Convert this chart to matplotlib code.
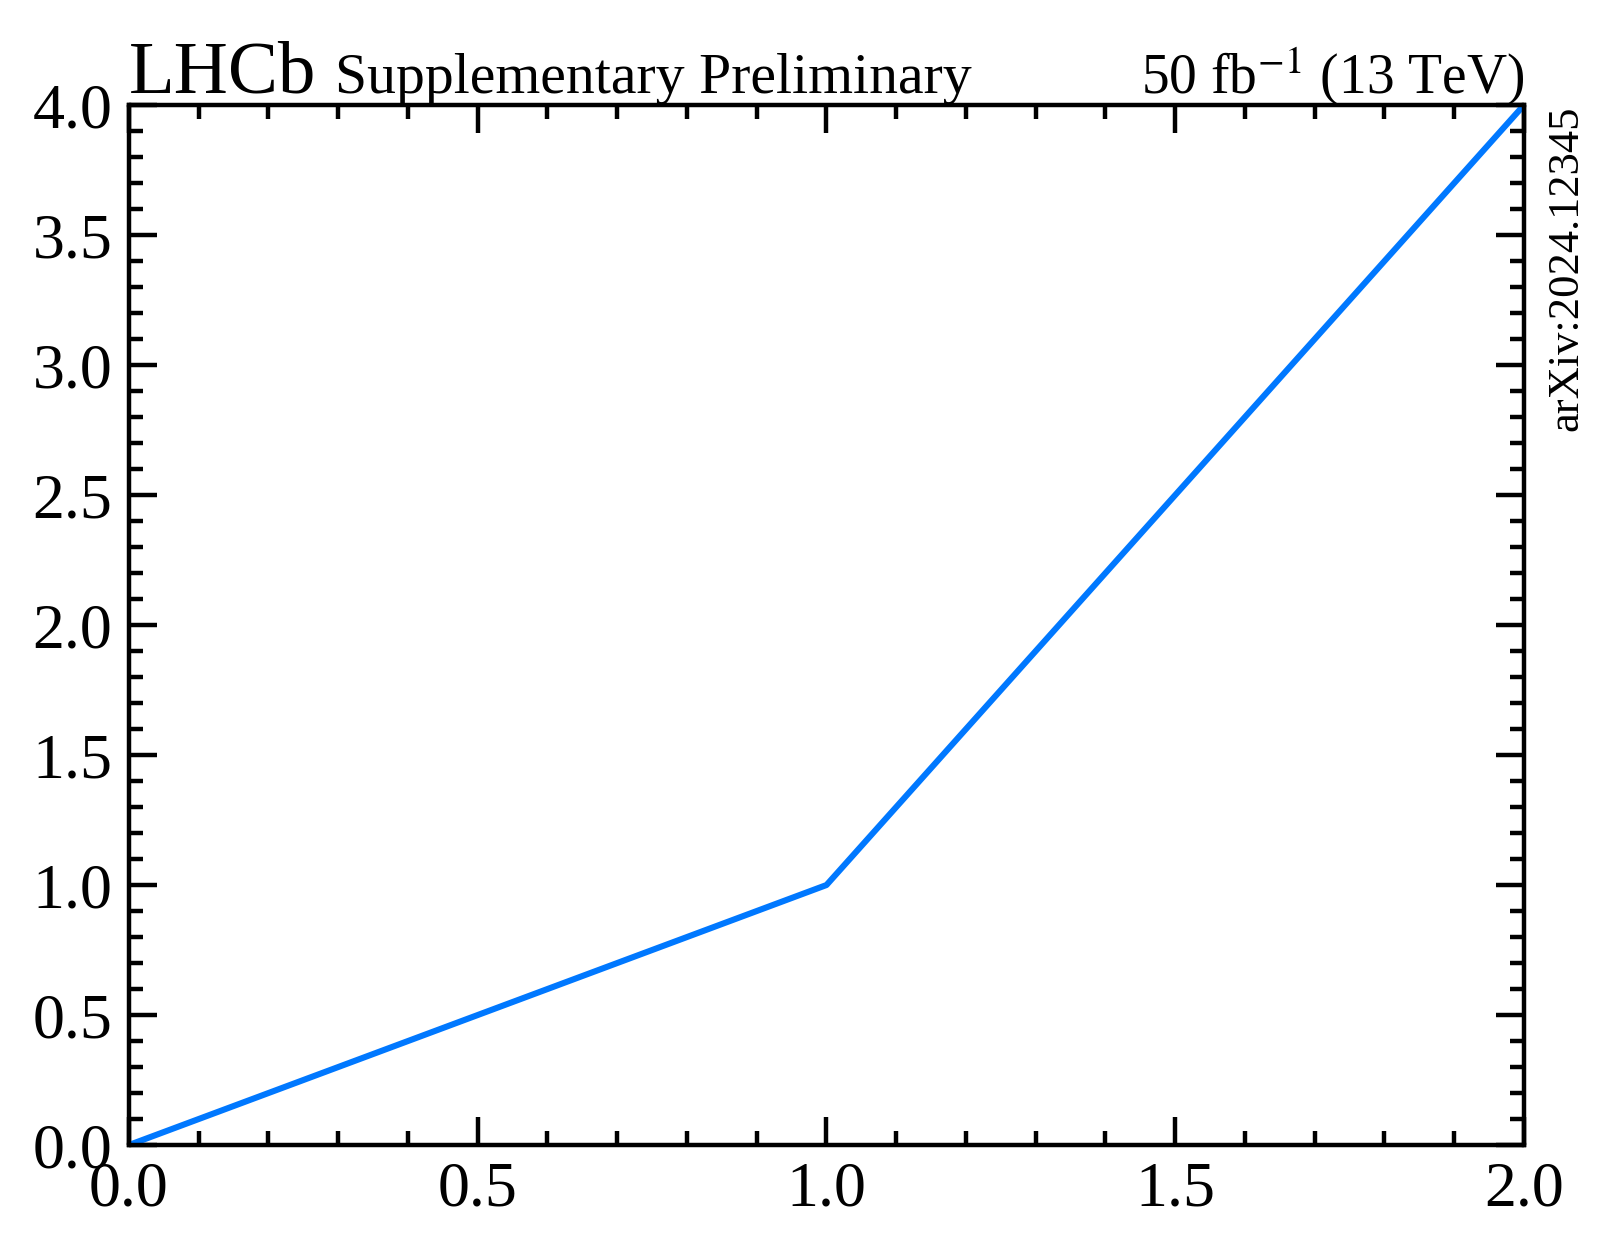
import matplotlib
matplotlib.use("Agg")
import matplotlib.pyplot as plt
from matplotlib.ticker import MultipleLocator

# data
x_vals = [0.0, 1.0, 2.0]
y_vals = [0.0, 1.0, 4.0]

plt.rcParams["font.family"] = ["Liberation Serif", "DejaVu Serif"]
plt.rcParams["mathtext.fontset"] = "stix"

fig = plt.figure(figsize=(8.06, 6.29), dpi=200)
ax = fig.add_axes([0.080, 0.0898, 0.8654, 0.8267])

ax.plot(x_vals, y_vals, color="#0078ff", linewidth=2.2)

ax.set_xlim(0, 2)
ax.set_ylim(0, 4)
ax.xaxis.set_major_locator(MultipleLocator(0.5))
ax.xaxis.set_minor_locator(MultipleLocator(0.1))
ax.yaxis.set_major_locator(MultipleLocator(0.5))
ax.yaxis.set_minor_locator(MultipleLocator(0.1))

for s in ax.spines.values():
    s.set_linewidth(1.6)
ax.tick_params(which="both", direction="in", top=True, right=True, width=1.6)
ax.tick_params(which="major", length=10, labelsize=23, pad=6)
ax.tick_params(which="minor", length=5)

ax.text(0.0, 1.012, "LHCb", transform=ax.transAxes, fontsize=27,
        ha="left", va="baseline")
ax.text(0.148, 1.012, "Supplementary Preliminary", transform=ax.transAxes,
        fontsize=20.8, ha="left", va="baseline")
ax.text(1.0, 1.012, r"50 fb$^{-1}$ (13 TeV)", transform=ax.transAxes,
        fontsize=20, ha="right", va="baseline")
ax.text(1.016, 1.0, "arXiv:2024.12345", transform=ax.transAxes, fontsize=16,
        rotation=90, ha="left", va="top")

fig.savefig("out.png", dpi=200)
